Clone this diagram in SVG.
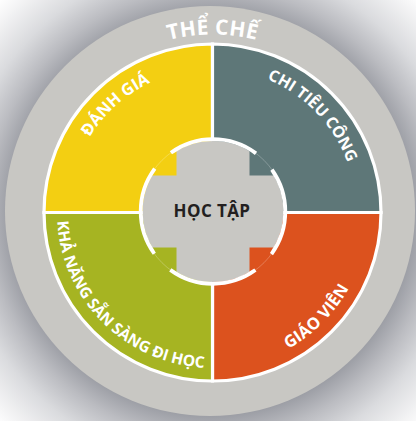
<svg xmlns="http://www.w3.org/2000/svg" width="416" height="421" viewBox="0 0 416 421">
  <defs>
    <style>
      .lbl { font-family: "Open Sans", "Noto Sans", "DejaVu Sans", sans-serif; font-weight: 700; fill: #FFFFFF; }
      .seg { stroke: #FFFFFF; stroke-width: 3.2; stroke-linejoin: miter; }
      .band { fill: #C8C7C3; }
    </style>
    <radialGradient id="shadow" gradientUnits="userSpaceOnUse" cx="211" cy="213" r="300">
      <stop offset="0.67" stop-color="#9A9CA3"/>
      <stop offset="0.75" stop-color="#BBBCC1"/>
      <stop offset="0.84" stop-color="#DADBDE"/>
      <stop offset="0.95" stop-color="#F4F4F5"/>
      <stop offset="1" stop-color="#FFFFFF"/>
    </radialGradient>
    <clipPath id="cross">
      <rect x="176.5" y="120" width="73" height="190"/>
      <rect x="120" y="175.5" width="190" height="72"/>
    </clipPath>
    <path id="p-the" d="M86.63,86.63 A178,178 0 0 1 338.37,86.63"/>
    <path id="p-danh" d="M71.65,242.44 A144,144 0 0 1 257.0,75.55"/>
    <path id="p-chi" d="M177.66,72.78 A144,144 0 0 1 350.92,252.19"/>
    <path id="p-giao" d="M172.38,363.22 A156,156 0 0 0 363.22,172.38"/>
    <path id="p-kha" d="M66.4,159.3 A155.5,155.5 0 0 0 265.7,358.6"/>
  </defs>

  <g id="background">
    <rect x="0" y="0" width="416" height="421" fill="url(#shadow)"/>
  </g>

  <g id="the-che">
    <circle class="band" cx="210" cy="211" r="205"/>
    <text class="lbl" font-size="21" letter-spacing="0.3"><textPath href="#p-the" startOffset="50%" text-anchor="middle">THỂ CHẾ</textPath></text>
  </g>

  <g id="danh-gia">
    <path class="seg" fill="#F3CF12" d="M212.5,212.5 L212.5,44 A168.5,168.5 0 0 0 44,212.5 Z"/>
    <text class="lbl" font-size="16.5" letter-spacing="0"><textPath href="#p-danh" startOffset="50%" text-anchor="middle">ĐÁNH GIÁ</textPath></text>
  </g>

  <g id="chi-tieu-cong">
    <path class="seg" fill="#5E7778" d="M212.5,212.5 L381,212.5 A168.5,168.5 0 0 0 212.5,44 Z"/>
    <text class="lbl" font-size="16" letter-spacing="0"><textPath href="#p-chi" startOffset="50%" text-anchor="middle">CHI TIÊU CÔNG</textPath></text>
  </g>

  <g id="giao-vien">
    <path class="seg" fill="#DC521E" d="M212.5,212.5 L212.5,381 A168.5,168.5 0 0 0 381,212.5 Z"/>
    <text class="lbl" font-size="16.5" letter-spacing="0.2"><textPath href="#p-giao" startOffset="50%" text-anchor="middle">GIÁO VIÊN</textPath></text>
  </g>

  <g id="kha-nang">
    <path class="seg" fill="#A6B422" d="M212.5,212.5 L44,212.5 A168.5,168.5 0 0 0 212.5,381 Z"/>
    <text class="lbl" font-size="15.6" letter-spacing="0"><textPath href="#p-kha" startOffset="50%" text-anchor="middle">KHẢ NĂNG SẴN SÀNG ĐI HỌC</textPath></text>
  </g>

  <g id="hoc-tap">
    <circle class="band" cx="213" cy="211.5" r="70.5" clip-path="url(#cross)"/>
    <circle cx="213" cy="211.5" r="72.3" fill="none" stroke="#FFFFFF" stroke-opacity="0.3" stroke-width="0.8"/>
    <circle cx="213" cy="211.5" r="72.3" fill="none" stroke="#FFFFFF" stroke-width="3.8" stroke-dasharray="90.86 22.71" stroke-dashoffset="45.43"/>
    <text x="212" y="217" text-anchor="middle" font-family="Open Sans, Noto Sans, DejaVu Sans, sans-serif" font-weight="700" font-size="17" letter-spacing="0.4" fill="#231F20">HỌC TẬP</text>
  </g>
</svg>
